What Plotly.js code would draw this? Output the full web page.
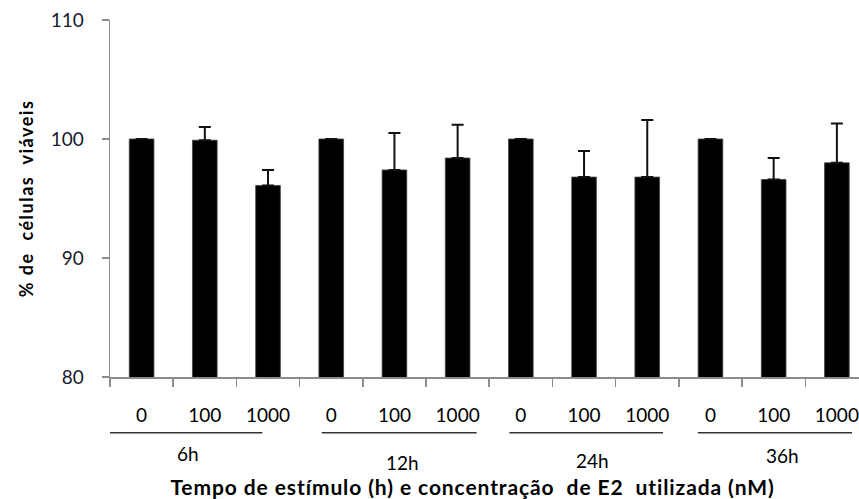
<!DOCTYPE html>
<html>
<head>
<meta charset="utf-8">
<script src="https://cdn.plot.ly/plotly-3.0.1.min.js"></script>
<style>
html,body{margin:0;padding:0;background:#fff;}
#chart{width:859px;height:499px;}
#chart text.xtitle{letter-spacing:0.9px; transform:translateX(-12px);}
#chart text.ytitle{letter-spacing:1.5px;}
</style>
</head>
<body>
<div id="chart"></div>
<script>
// ---- data ----
const groups = ['6h', '12h', '24h', '36h'];
const concentrations = ['0', '100', '1000'];
const viability = [100, 99.9, 96.1, 100, 97.4, 98.4, 100, 96.8, 96.8, 100, 96.6, 98.0];
const errorUp = [0, 1.1, 1.3, 0, 3.1, 2.8, 0, 2.2, 4.8, 0, 1.8, 3.3];

// ---- layout helpers (positions/styles, not data) ----
const FONT = 'Lato, "Liberation Sans", sans-serif';
const groupLabelShift = [-0.26, 0.12, 0.14, 0.14];
const groupLabelY = [-0.215, -0.24, -0.235, -0.22];
const lineStart = [-0.02, 0.35, 0.32, 0.30];
const lineEnd = [2.41, 2.80, 2.75, 2.74];

const xIdx = [], tickText = [];
groups.forEach((g, gi) => concentrations.forEach((c, ci) => {
  xIdx.push(gi * concentrations.length + ci);
  tickText.push(c);
}));
const boundaries = xIdx.map(i => i - 0.5);

const trace = {
  type: 'bar',
  x: xIdx,
  y: viability,
  width: 0.39,
  marker: {color: '#000', line: {color: '#444', width: 0.8}},
  error_y: {type: 'data', symmetric: false, array: errorUp, arrayminus: errorUp.map(() => 0),
            color: '#111', thickness: 2, width: 6},
  hoverinfo: 'x+y'
};

const annotations = [];
const shapes = [];
groups.forEach((g, gi) => {
  const n = concentrations.length;
  annotations.push({
    text: g, xref: 'x', yref: 'paper',
    x: gi * n + (n - 1) / 2 + groupLabelShift[gi], y: groupLabelY[gi],
    showarrow: false, xanchor: 'center', yanchor: 'middle',
    font: {family: FONT, size: 19, color: '#000'}
  });
  shapes.push({
    type: 'line', xref: 'x', yref: 'paper',
    x0: gi * n - 0.5 + lineStart[gi], x1: gi * n - 0.5 + lineEnd[gi],
    y0: -0.156, y1: -0.156,
    line: {color: '#333', width: 1.5}
  });
});

const layout = {
  width: 859, height: 499,
  margin: {l: 110, r: 0, t: 20, b: 122},
  paper_bgcolor: '#fff', plot_bgcolor: '#fff',
  showlegend: false,
  font: {family: FONT, color: '#000'},
  xaxis: {
    range: [-0.5, 11.35], showgrid: false, zeroline: false,
    showline: true, linecolor: '#8c8c8c', linewidth: 1.5,
    tickmode: 'array', tickvals: boundaries, ticks: 'outside', ticklen: 8,
    tickcolor: '#8c8c8c', tickwidth: 1.5, showticklabels: false,
    title: {text: '<b>Tempo de estímulo (h) e concentração&nbsp; de E2&nbsp; utilizada (nM)</b>',
            font: {family: FONT, size: 21, color: '#000'}, standoff: 96}
  },
  xaxis2: {
    overlaying: 'x', anchor: 'y', side: 'bottom',
    range: [-0.5, 11.35], showgrid: false, zeroline: false, showline: false,
    tickmode: 'array', tickvals: xIdx, ticktext: tickText, ticks: '',
    ticklabelstandoff: 25,
    tickfont: {family: FONT, size: 19, color: '#000'}
  },
  yaxis: {
    range: [80, 110], tickvals: [80, 90, 100, 110], showgrid: false, zeroline: false,
    showline: true, linecolor: '#8c8c8c', linewidth: 1.5,
    ticks: 'outside', ticklen: 7, tickcolor: '#8c8c8c', tickwidth: 1.5,
    ticklabelstandoff: 14,
    tickfont: {family: FONT, size: 19, color: '#1a1a2e'},
    title: {text: '<b>% de&nbsp; células&nbsp; viáveis</b>', font: {family: FONT, size: 18, color: '#000'}, standoff: 12}
  },
  annotations: annotations,
  shapes: shapes
};

// invisible trace on xaxis2 so its tick labels render
const labelTrace = {type: 'scatter', x: xIdx, y: viability, xaxis: 'x2', yaxis: 'y',
  mode: 'markers', marker: {opacity: 0}, hoverinfo: 'skip'};

Plotly.newPlot('chart', [trace, labelTrace], layout, {displayModeBar: false, staticPlot: true});
</script>
</body>
</html>
